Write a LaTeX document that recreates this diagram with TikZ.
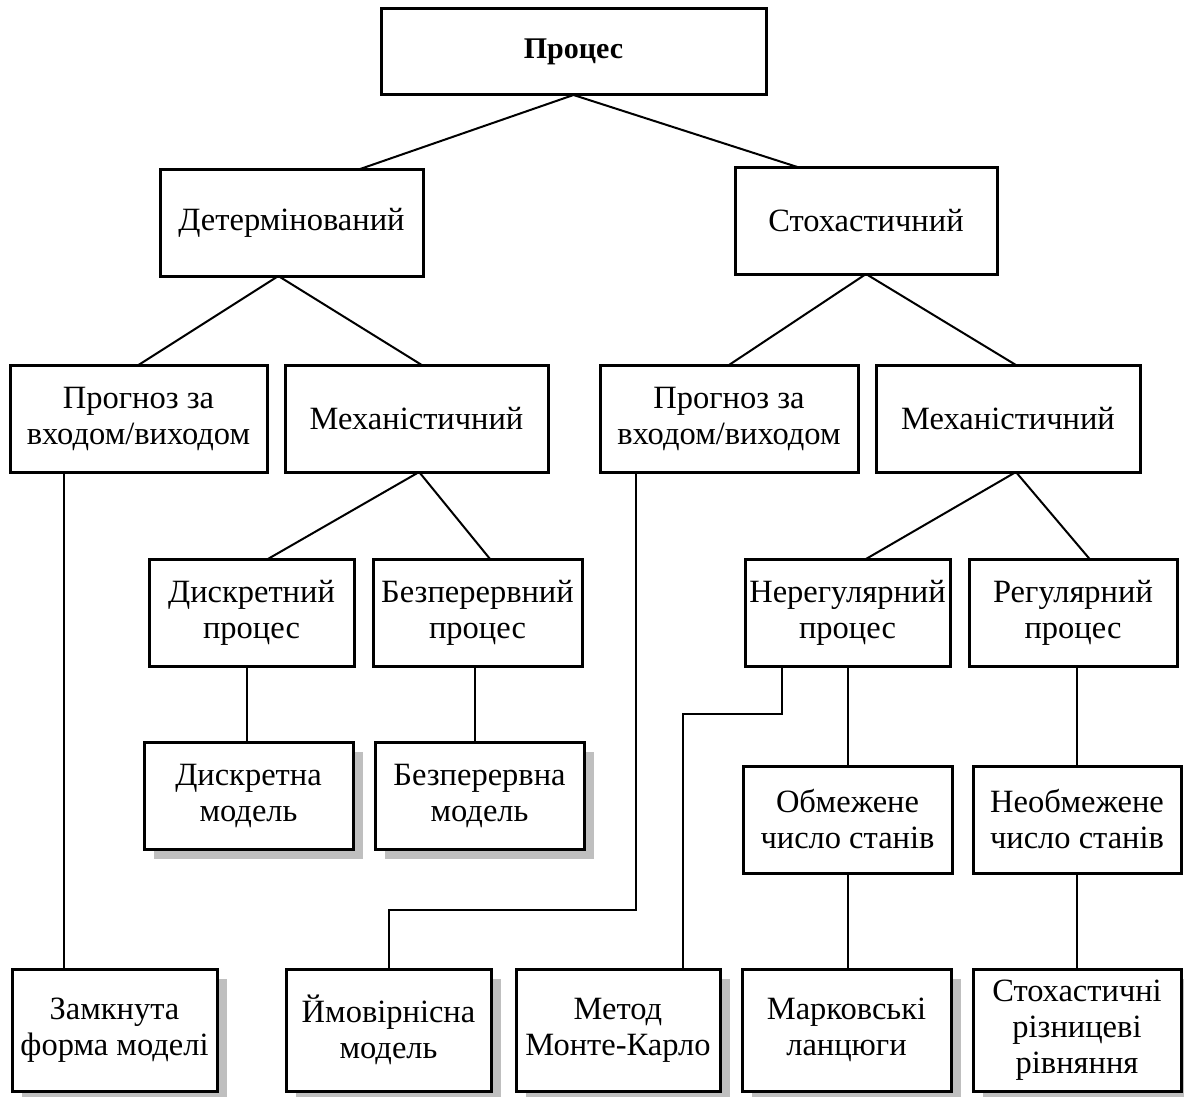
\documentclass[tikz,border=0pt]{standalone}
\usepackage{fontspec}
\setmainfont{Liberation Serif}
\usetikzlibrary{
calc,
positioning,
shadows
}

\begin{document}
\begin{tikzpicture}[x=1pt,y=-1pt,
    box/.style={draw,line width=3pt,fill=white,inner sep=0pt,outer sep=0pt,
      align=center,font=\fontsize{32.5}{36}\selectfont,minimum height=107pt},
    shbox/.style={box,minimum height=122pt,
      drop shadow={shadow xshift=10pt,shadow yshift=-10pt,fill=black!25,opacity=1}},
    link/.style={line width=2pt}]
    \useasboundingbox (0,0) rectangle (1184,1097);

    \node[box,minimum width=385pt,minimum height=86pt,font=\fontsize{30}{36}\selectfont\bfseries] (Proc) at (573.5,52) {Процес};
    \node[box,minimum width=263pt,minimum height=106pt] (Det) at (291.5,223) {Детермінований};
    \node[box,minimum width=262pt,minimum height=106pt] (Sto) at (866,221) {Стохастичний};
    \draw[link] (Proc.south) -- ($(Det.north west)!0.75!(Det.north east)$);
    \draw[link] (Proc.south) -- ($(Sto.north west)!0.25!(Sto.north east)$);

    \node[box,minimum width=257pt] (PrL) at (138.5,418.5) {Прогноз за\\входом/виходом};
    \node[box,minimum width=263pt,right = 18pt of PrL] (MeL) {Механістичний};
    \node[box,minimum width=258pt,right = 52pt of MeL] (PrR) {Прогноз за\\входом/виходом};
    \node[box,minimum width=264pt,right = 18pt of PrR] (MeR) {Механістичний};
    \coordinate (dt) at ($(Det.south west)!0.45!(Det.south east)$);
    \draw[link] (dt) -- (PrL.north);
    \draw[link] (dt) -- ($(MeL.north west)!0.52!(MeL.north east)$);
    \draw[link] (Sto.south) -- (PrR.north);
    \draw[link] (Sto.south) -- ($(MeR.north west)!0.53!(MeR.north east)$);

    \node[box,minimum width=205pt] (Disc) at (251.5,612.5) {Дискретний\\процес};
    \node[box,minimum width=209pt,right = 19pt of Disc] (Cont) {Безперервний\\процес};
    \node[box,minimum width=205pt] (Irr) at (847.5,612.5) {Нерегулярний\\процес};
    \node[box,minimum width=208pt,right = 19pt of Irr] (Reg) {Регулярний\\процес};
    \coordinate (ml) at ($(MeL.south west)!0.51!(MeL.south east)$);
    \draw[link] (ml) -- ($(Disc.north west)!0.58!(Disc.north east)$);
    \draw[link] (ml) -- ($(Cont.north west)!0.56!(Cont.north east)$);
    \coordinate (mr) at ($(MeR.south west)!0.53!(MeR.south east)$);
    \draw[link] (mr) -- ($(Irr.north west)!0.59!(Irr.north east)$);
    \draw[link] (mr) -- ($(Reg.north west)!0.58!(Reg.north east)$);

    \node[shbox,minimum width=209pt,minimum height=107pt] (DiscM) at (248.5,795.5) {Дискретна\\модель};
    \node[shbox,minimum width=209pt,minimum height=107pt,right = 22pt of DiscM] (ContM) {Безперервна\\модель};
    \node[box,minimum width=209pt] (Lim) at (847.5,819.5) {Обмежене\\число станів};
    \node[box,minimum width=208pt,right = 21pt of Lim] (Unl) {Необмежене\\число станів};
    \coordinate (ds) at ($(Disc.south west)!0.48!(Disc.south east)$);
    \draw[link] (ds) -- (ds |- DiscM.north);
    \coordinate (cs) at ($(Cont.south west)!0.49!(Cont.south east)$);
    \draw[link] (cs) -- (cs |- ContM.north);
    \draw[link] (Irr.south) -- (Lim.north);
    \draw[link] (Unl.north |- Reg.south) -- (Unl.north);

    \node[shbox,minimum width=205pt] (Closed) at (114.5,1030) {Замкнута\\форма моделі};
    \node[shbox,minimum width=205pt,right = 69pt of Closed] (Prob) {Ймовірнісна\\модель};
    \node[shbox,minimum width=204pt,right = 25pt of Prob] (MC) {Метод\\Монте-Карло};
    \node[shbox,minimum width=209pt,right = 22pt of MC] (Mark) {Марковські\\ланцюги};
    \node[shbox,minimum width=208pt,right = 22pt of Mark] (SDE) {Стохастичні\\різницеві\\рівняння};

    % long links down to the models
    \coordinate (pl) at ($(PrL.south west)!0.21!(PrL.south east)$);
    \draw[link] (pl) -- (pl |- Closed.north);
    \coordinate (pr) at ($(PrR.south west)!0.14!(PrR.south east)$);
    \draw[link] (pr) -- ++(0,438) -| (Prob.north);
    \coordinate (ir) at ($(Irr.south west)!0.18!(Irr.south east)$);
    \draw[link] (ir) -- ++(0,48) -| ($(MC.north west)!0.82!(MC.north east)$);
    \draw[link] (Lim.south) -- (Lim.south |- Mark.north);
    \draw[link] (Unl.south) -- (Unl.south |- SDE.north);
\end{tikzpicture}
\end{document}
